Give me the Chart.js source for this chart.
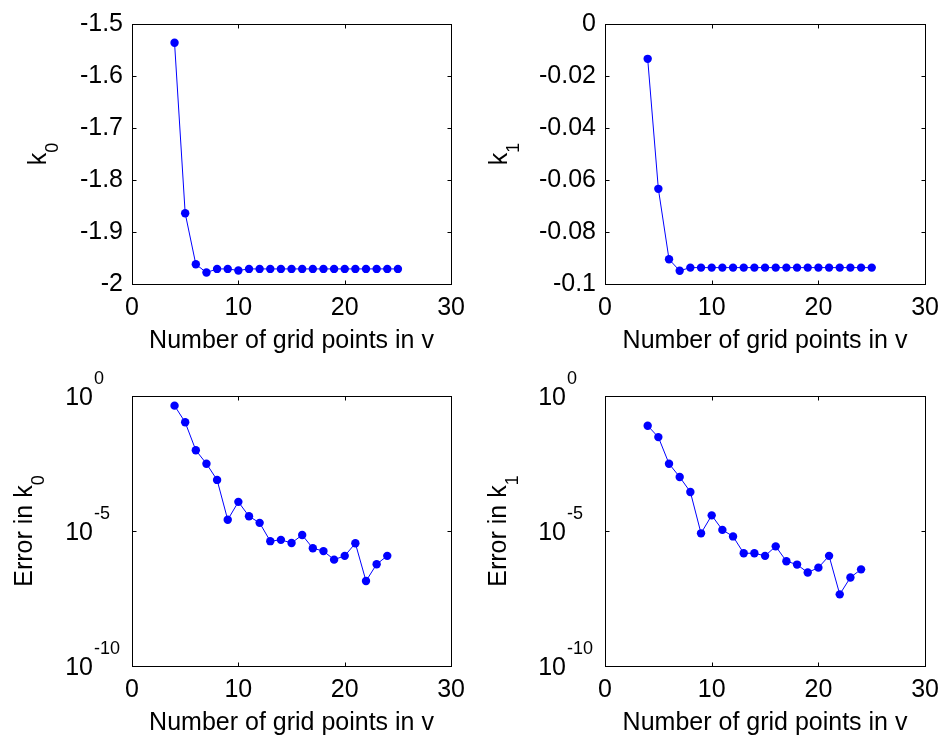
<!DOCTYPE html>
<html>
<head>
<meta charset="utf-8">
<script src="https://cdn.jsdelivr.net/npm/chart.js@4.4.0/dist/chart.umd.min.js"></script>
<style>
  body { margin: 0; background: #fff; }
  #wrap { position: relative; width: 948px; height: 740px; }
  canvas { position: absolute; }
</style>
</head>
<body>
<div id="wrap">
  <canvas id="k0Chart" width="474" height="370" style="left:0;top:0"></canvas>
  <canvas id="k1Chart" width="474" height="370" style="left:474px;top:0"></canvas>
  <canvas id="errK0Chart" width="474" height="370" style="left:0;top:370px"></canvas>
  <canvas id="errK1Chart" width="474" height="370" style="left:474px;top:370px"></canvas>
</div>
<script>
// grid sizes (x values)
var gridTop = [4, 5, 6, 7, 8, 9, 10, 11, 12, 13, 14, 15, 16, 17, 18, 19, 20, 21, 22, 23, 24, 25];
var gridBottom = [4, 5, 6, 7, 8, 9, 10, 11, 12, 13, 14, 15, 16, 17, 18, 19, 20, 21, 22, 23, 24];

// series
var k0Values = [-1.536, -1.864, -1.962, -1.978, -1.971, -1.971, -1.974, -1.971, -1.971, -1.971, -1.971,
                -1.971, -1.971, -1.971, -1.971, -1.971, -1.971, -1.971, -1.971, -1.971, -1.971, -1.971];
var k1Values = [-0.0134, -0.0634, -0.0905, -0.0949, -0.0937, -0.0937, -0.0937, -0.0937, -0.0937, -0.0937, -0.0937,
                -0.0937, -0.0937, -0.0937, -0.0937, -0.0937, -0.0937, -0.0937, -0.0937, -0.0937, -0.0937, -0.0937];
var errK0Values = [0.44, 0.106, 9.8e-3, 3.1e-3, 7.8e-4, 2.6e-5, 1.2e-4, 3.5e-5, 2.0e-5, 4.2e-6, 4.7e-6,
                   3.6e-6, 7.1e-6, 2.3e-6, 1.8e-6, 8.7e-7, 1.2e-6, 3.5e-6, 1.4e-7, 5.9e-7, 1.2e-6];
var errK1Values = [0.079, 0.030, 3.1e-3, 1.0e-3, 2.8e-4, 8.2e-6, 3.8e-5, 1.1e-5, 6.3e-6, 1.5e-6, 1.5e-6,
                   1.2e-6, 2.7e-6, 7.6e-7, 5.7e-7, 2.9e-7, 4.4e-7, 1.2e-6, 4.5e-8, 1.9e-7, 3.8e-7];

// tick labels
var logTicks = [1e-10, 1e-5, 1];
var xTitle = 'Number of grid points in v';

var FONT = '"Liberation Sans", Arial, sans-serif';
var BLUE = '#0000ff';

Chart.defaults.font.family = FONT;
Chart.defaults.font.size = 25;
Chart.defaults.color = '#000';

// box, inward ticks, 10^n labels and subscripted y titles
var matlabAxes = {
    id: 'matlabAxes',
    afterDraw: function (chart, args, opts) {
        var ctx = chart.ctx;
        var a = chart.chartArea;
        var xs = chart.scales.x;
        var ys = chart.scales.y;
        var l = Math.round(a.left) + 0.5, r = Math.round(a.right) + 0.5;
        var t = Math.round(a.top) + 0.5, b = Math.round(a.bottom) + 0.5;

        ctx.save();
        ctx.strokeStyle = '#000';
        ctx.lineWidth = 1;
        ctx.strokeRect(l, t, r - l, b - t);
        ctx.beginPath();
        xs.ticks.forEach(function (tk) {
            var px = Math.round(xs.getPixelForValue(tk.value)) + 0.5;
            ctx.moveTo(px, b); ctx.lineTo(px, b - 4);
            ctx.moveTo(px, t); ctx.lineTo(px, t + 4);
        });
        ys.ticks.forEach(function (tk) {
            var py = Math.round(ys.getPixelForValue(tk.value)) + 0.5;
            ctx.moveTo(l, py); ctx.lineTo(l + 4, py);
            ctx.moveTo(r, py); ctx.lineTo(r - 4, py);
        });
        ctx.stroke();

        ctx.fillStyle = '#000';
        if (opts.logLabels) {
            ys.ticks.forEach(function (tk) {
                var py = ys.getPixelForValue(tk.value);
                var expo = Math.round(Math.log10(tk.value));
                ctx.textBaseline = 'alphabetic';
                ctx.font = '25px ' + FONT;
                ctx.textAlign = 'right';
                ctx.fillText('10', a.left - 39, py + 9);
                ctx.font = '18px ' + FONT;
                ctx.textAlign = 'left';
                ctx.fillText(String(expo), a.left - 38, py - 12);
            });
        }

        if (opts.yTitle) {
            var cy = (a.top + a.bottom) / 2;
            ctx.font = '25px ' + FONT;
            var w1 = ctx.measureText(opts.yTitle.text).width;
            ctx.font = '18px ' + FONT;
            var w2 = ctx.measureText(opts.yTitle.sub).width;
            var start = -(w1 + w2) / 2;
            ctx.translate(opts.yTitle.x, cy);
            ctx.rotate(-Math.PI / 2);
            ctx.textAlign = 'left';
            ctx.textBaseline = 'alphabetic';
            ctx.font = '25px ' + FONT;
            ctx.fillText(opts.yTitle.text, start, 0);
            ctx.font = '18px ' + FONT;
            ctx.fillText(opts.yTitle.sub, start + w1, 12);
        }
        ctx.restore();
    }
};

function plainNumber(v) {
    return String(+Number(v).toFixed(4));
}

function buildChart(id, xs, ys, opts) {
    var points = xs.map(function (x, i) { return {x: x, y: ys[i]}; });
    var yScale;
    if (opts.log) {
        yScale = {
            type: 'logarithmic',
            min: 1e-10,
            max: 1,
            afterBuildTicks: function (scale) {
                scale.ticks = logTicks.map(function (v) { return {value: v}; });
            },
            afterFit: function (scale) { scale.width = opts.left; },
            ticks: {display: false},
            grid: {display: false, drawTicks: false},
            border: {display: false}
        };
    } else {
        yScale = {
            type: 'linear',
            min: opts.yMin,
            max: opts.yMax,
            afterFit: function (scale) { scale.width = opts.left; },
            ticks: {stepSize: opts.yStep, padding: 9, callback: plainNumber},
            grid: {display: false, drawTicks: false},
            border: {display: false}
        };
    }

    return new Chart(document.getElementById(id).getContext('2d'), {
        type: 'line',
        data: {
            datasets: [{
                data: points,
                borderColor: BLUE,
                borderWidth: 1,
                backgroundColor: BLUE,
                pointBackgroundColor: BLUE,
                pointBorderWidth: 0,
                pointRadius: 4.2,
                tension: 0,
                fill: false
            }]
        },
        options: {
            responsive: false,
            animation: false,
            layout: {padding: {top: opts.top, right: opts.right, bottom: opts.bottom, left: 0}},
            scales: {
                x: {
                    type: 'linear',
                    min: 0,
                    max: 30,
                    afterFit: function (scale) { scale.height = 74; },
                    ticks: {stepSize: 10, padding: 9, maxRotation: 0, callback: plainNumber},
                    grid: {display: false, drawTicks: false},
                    border: {display: false},
                    title: {display: true, text: xTitle, padding: {top: 0, bottom: 2}}
                },
                y: yScale
            },
            plugins: {
                legend: {display: false},
                tooltip: {enabled: false},
                matlabAxes: {logLabels: !!opts.log, yTitle: opts.yTitle}
            }
        },
        plugins: [matlabAxes]
    });
}

buildChart('k0Chart', gridTop, k0Values, {
    yMin: -2, yMax: -1.5, yStep: 0.1, left: 132, top: 16, right: 16, bottom: 12,
    yTitle: {text: 'k', sub: '0', x: 46}
});
buildChart('k1Chart', gridTop, k1Values, {
    yMin: -0.1, yMax: 0, yStep: 0.02, left: 131, top: 16, right: 18, bottom: 12,
    yTitle: {text: 'k', sub: '1', x: 33}
});
buildChart('errK0Chart', gridBottom, errK0Values, {
    log: true, left: 132, top: 26, right: 16, bottom: 0,
    yTitle: {text: 'Error in k', sub: '0', x: 32}
});
buildChart('errK1Chart', gridBottom, errK1Values, {
    log: true, left: 131, top: 26, right: 18, bottom: 0,
    yTitle: {text: 'Error in k', sub: '1', x: 32}
});
</script>
</body>
</html>
